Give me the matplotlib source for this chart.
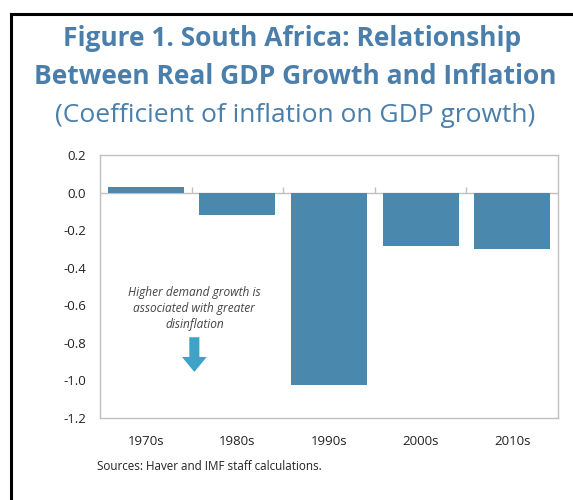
import matplotlib
matplotlib.use("Agg")
import matplotlib.pyplot as plt
from matplotlib.patches import FancyArrow
from matplotlib.lines import Line2D

# Coefficient of inflation on GDP growth, by decade
decades = ["1970s", "1980s", "1990s", "2000s", "2010s"]
coefficients = [0.028, -0.12, -1.025, -0.285, -0.30]
y_ticks = [0.2, 0.0, -0.2, -0.4, -0.6, -0.8, -1.0, -1.2]

TITLE_BLUE = "#4a7eab"
BAR_BLUE = "#4a89ad"
ARROW_BLUE = "#3fa3c6"
GRID_GRAY = "#c0c0c0"
FONT = "Open Sans"

W, H = 573, 500
fig = plt.figure(figsize=(W / 100, H / 100), dpi=100)
fig.patch.set_facecolor("white")

# Outer frame: top and left edges
fig.add_artist(Line2D([11 / W, 1.0], [1 - 14 / H, 1 - 14 / H], color="black",
                      lw=2.2, transform=fig.transFigure))
fig.add_artist(Line2D([11 / W, 11 / W], [0.0, 1 - 14 / H], color="black",
                      lw=2.2, transform=fig.transFigure))

# Titles
fig.text(292 / W, 1 - 39 / H, "Figure 1. South Africa: Relationship",
         ha="center", va="center", fontsize=19, fontweight="bold",
         color=TITLE_BLUE, family=FONT)
fig.text(295 / W, 1 - 77 / H, "Between Real GDP Growth and Inflation",
         ha="center", va="center", fontsize=19, fontweight="bold",
         color=TITLE_BLUE, family=FONT)
fig.text(295 / W, 1 - 116 / H, "(Coefficient of inflation on GDP growth)",
         ha="center", va="center", fontsize=19, color=TITLE_BLUE, family=FONT)

# Plot area
ax = fig.add_axes([100 / W, (H - 418) / H, 458 / W, 263 / H])
x = list(range(len(decades)))
ax.bar(x, coefficients, width=0.83, color=BAR_BLUE, zorder=2)
ax.set_xlim(-0.5, len(decades) - 0.5)
ax.set_ylim(-1.2, 0.2)
ax.set_yticks(y_ticks)
ax.set_yticklabels([f"{v:.1f}" for v in y_ticks])
ax.set_xticks(x)
ax.set_xticklabels(decades)
ax.tick_params(axis="both", length=0, labelsize=9.5, colors="#222222")
ax.tick_params(axis="y", pad=10)
ax.tick_params(axis="x", pad=12)
for lab in ax.get_xticklabels() + ax.get_yticklabels():
    lab.set_family(FONT)
for sp in ax.spines.values():
    sp.set_color(GRID_GRAY)
    sp.set_linewidth(1.0)

# Zero line with small upward ticks at category boundaries
ax.axhline(0, color=GRID_GRAY, lw=1.0, zorder=1)
boundaries = [i + 0.5 for i in x[:-1]]
ax.plot(boundaries, [0] * len(boundaries), linestyle="none", marker=2,
        markersize=4.5, markeredgewidth=1.0, color=GRID_GRAY, zorder=1)

# Annotation
ax.text(0.53, -0.615, "Higher demand growth is\nassociated with greater\ndisinflation",
        ha="center", va="center", fontsize=8.6, style="italic", color="#444444",
        family=FONT, linespacing=1.3)
ax.add_patch(FancyArrow(0.53, -0.77, 0, -0.185, width=0.11, head_width=0.27,
                        head_length=0.08, length_includes_head=True,
                        color=ARROW_BLUE, lw=0, zorder=3))

# Source note
fig.text(97 / W, 1 - 466 / H, "Sources: Haver and IMF staff calculations.",
         ha="left", va="center", fontsize=8.4, color="#222222", family=FONT)

fig.savefig("out.png", dpi=100)
